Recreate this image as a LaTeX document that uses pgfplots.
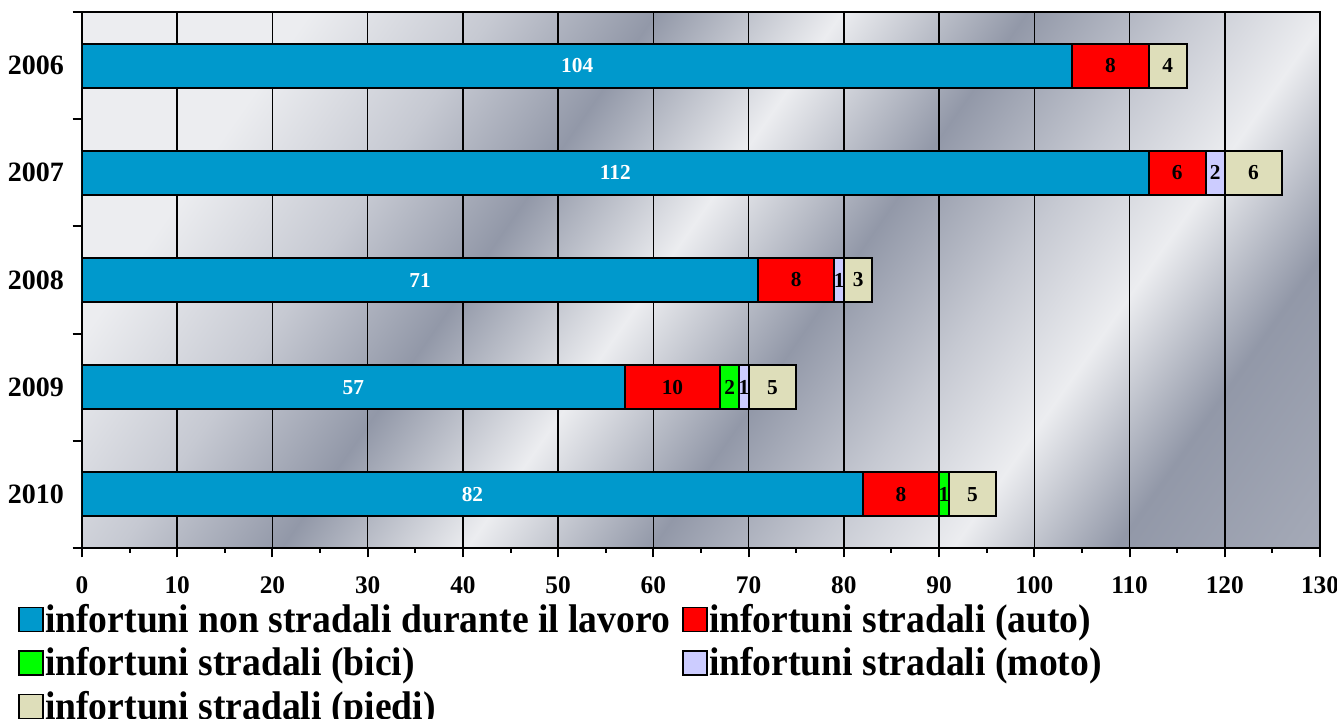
\documentclass[border=0pt]{standalone}
\usepackage{pgfplots}
\usepackage{pgfplotstable}
\pgfplotsset{compat=1.18}
\usepackage{fontspec}
\setmainfont{Liberation Serif}
\newfontfamily\legfont[FakeStretch=0.94]{Liberation Serif}
\definecolor{cblue}{RGB}{0,153,204}
\definecolor{cred}{RGB}{255,0,0}
\definecolor{cgreen}{RGB}{0,255,0}
\definecolor{cmoto}{RGB}{204,204,255}
\definecolor{cpiedi}{RGB}{222,222,186}
\definecolor{mlight}{RGB}{236,237,240}
\definecolor{mmid}{RGB}{198,201,210}
\definecolor{mdark}{RGB}{146,152,168}
\pgfdeclarehorizontalshading{metal}{100bp}{
color(0bp)=(mlight);
color(25bp)=(mlight);
color(33bp)=(mmid);
color(40bp)=(mdark);
color(48bp)=(mlight);
color(56bp)=(mdark);
color(63bp)=(mmid);
color(69bp)=(mlight);
color(76bp)=(mdark);
color(100bp)=(mmid)}
\pgfplotstableread{
y a b c d e
4 104 8 0 0 4
3 112 6 0 2 6
2 71 8 0 1 3
1 57 10 2 1 5
0 82 8 1 0 5
}\data
\pgfplotsset{
  legbox/.style={legend image code/.code={\draw[##1, draw=black, line width=1.2pt] (0pt,-9pt) rectangle (18pt,9pt);}},
  lab/.style={only marks, mark=none, point meta=explicit symbolic,
    nodes near coords={\ifnum\pgfplotspointmeta>0 \pgfplotspointmeta\fi},
    every node near coord/.style={anchor=center, inner sep=0pt, font=\fontsize{16}{16}\selectfont\bfseries, text=black}},
  frame/.style={at={(61.5pt,127.5pt)}, anchor=south west,
    scale only axis, width=928.5pt, height=402pt,
    xmin=0, xmax=130, ymin=-0.5, ymax=4.5},
}
\begin{document}
\begin{tikzpicture}
\useasboundingbox (0,0) rectangle (1002.75pt,538.5pt);
\begin{axis}[
  frame,
  axis background/.style={shading=metal, shading angle=-35},
  xbar stacked, bar width=0.41,
  xtick={0,10,...,130}, minor xtick={5,15,...,125},
  ytick={-0.5,0.5,...,4.5}, yticklabels={},
  extra y ticks={0,1,2,3,4},
  extra y tick labels={2010,2009,2008,2007,2006},
  extra y tick style={major tick length=0pt, grid=none},
  xtick pos=left, ytick pos=left,
  tick align=outside,
  major tick length=7pt, minor tick length=3.5pt,
  xmajorgrids, grid style={black, line width=1.2pt},
  axis line style={black, line width=1.5pt},
  tick style={black, line width=1.5pt},
  /pgf/number format/assume math mode=true,
  x tick label style={font=\fontsize{19}{19}\selectfont\bfseries, yshift=-11pt},
  y tick label style={font=\fontsize{21}{21}\selectfont\bfseries, xshift=-10pt},
  legend columns=2,
  legend cell align=left,
  legend style={at={(-0.055,-0.097)}, anchor=north west, draw=none, fill=none,
    font=\legfont\fontsize{30}{30}\selectfont\bfseries,
    nodes={inner sep=1pt}, row sep=8pt,
    /tikz/every even column/.append style={column sep=8pt}},
]
\addplot[fill=cblue, draw=black, line width=1.5pt, legbox] table[x=a, y=y]{\data};
\addlegendentry{infortuni non stradali durante il lavoro}
\addplot[fill=cred, draw=black, line width=1.5pt, legbox] table[x=b, y=y]{\data};
\addlegendentry{infortuni stradali (auto)}
\addplot[fill=cgreen, draw=black, line width=1.5pt, legbox] table[x=c, y=y]{\data};
\addlegendentry{infortuni stradali (bici)}
\addplot[fill=cmoto, draw=black, line width=1.5pt, legbox] table[x=d, y=y]{\data};
\addlegendentry{infortuni stradali (moto)}
\addplot[fill=cpiedi, draw=black, line width=1.5pt, legbox] table[x=e, y=y]{\data};
\addlegendentry{infortuni stradali (piedi)}
\end{axis}
\begin{axis}[frame, hide axis, clip=false]
\addplot[lab, every node near coord/.append style={text=white}]
  table[x expr=\thisrow{a}/2, y=y, meta=a]{\data};
\addplot[lab] table[x expr=\thisrow{a}+\thisrow{b}/2, y=y, meta=b]{\data};
\addplot[lab] table[x expr=\thisrow{a}+\thisrow{b}+\thisrow{c}/2, y=y, meta=c]{\data};
\addplot[lab] table[x expr=\thisrow{a}+\thisrow{b}+\thisrow{c}+\thisrow{d}/2, y=y, meta=d]{\data};
\addplot[lab] table[x expr=\thisrow{a}+\thisrow{b}+\thisrow{c}+\thisrow{d}+\thisrow{e}/2, y=y, meta=e]{\data};
\end{axis}
\end{tikzpicture}
\end{document}
